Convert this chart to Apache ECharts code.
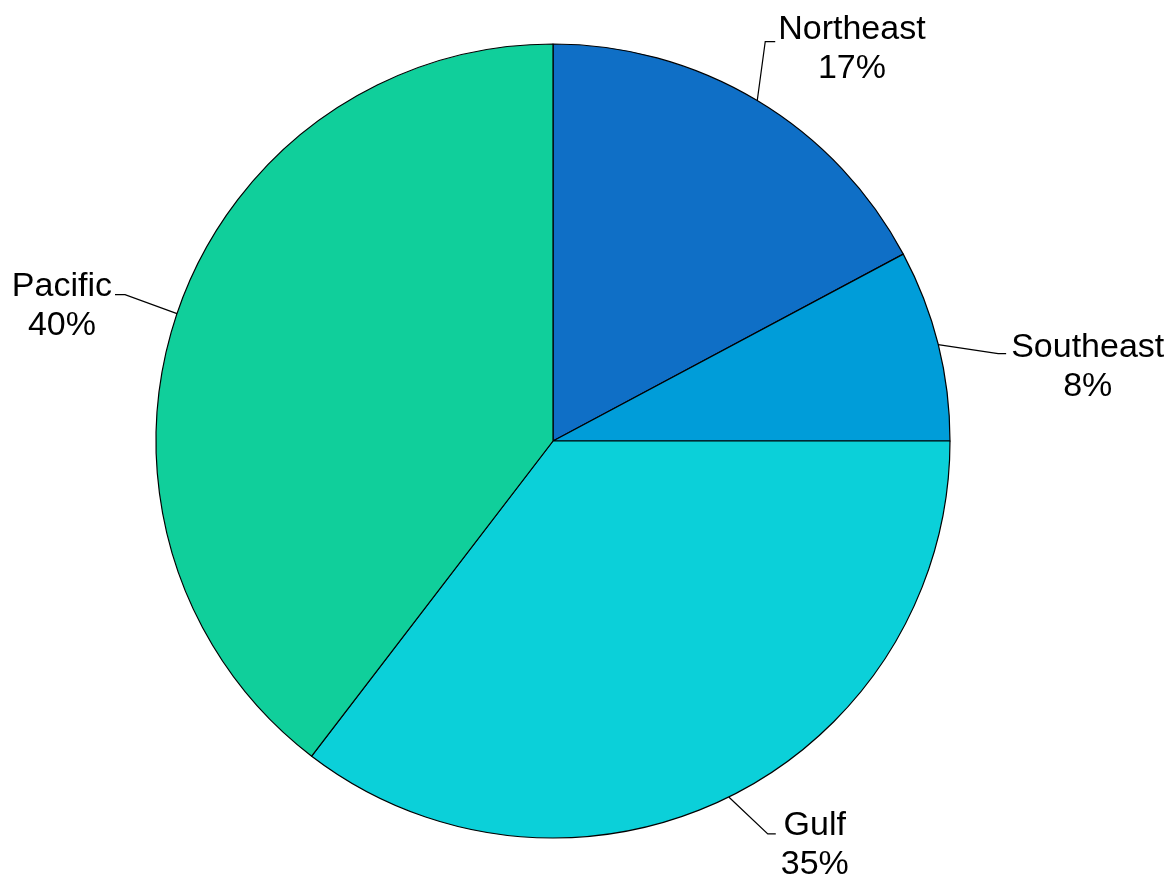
<!DOCTYPE html>
<html>
<head>
<meta charset="utf-8">
<script src="https://cdn.jsdelivr.net/npm/echarts@6/dist/echarts.min.js"></script>
<style>html,body{margin:0;padding:0;background:#fff}#c{width:1173px;height:878px}</style>
</head>
<body>
<div id="c"></div>
<script>
const categories = ['Northeast', 'Southeast', 'Gulf', 'Pacific'];
const values = [17.2, 7.8, 35.4, 39.6];
const colors = ['#0F6FC6', '#009DD9', '#0BD0D9', '#10CF9B'];

// label line offsets (style): [elbow dx, elbow dy, horizontal run, text gap, text dy]
const labelOffsets = [
  [8, -59, 10, 3, 8],
  [60, 9, 8, 5, 13],
  [39, 37, 8, 5, 11],
  [-52, -19, -10, 3, 12]
];

const chart = echarts.init(document.getElementById('c'));
chart.setOption({
  animation: false,
  backgroundColor: '#ffffff',
  series: [{
    type: 'pie',
    center: [553, 441],
    radius: 397,
    startAngle: 90,
    clockwise: true,
    percentPrecision: 0,
    data: categories.map((c, i) => ({ name: c, value: values[i], itemStyle: { color: colors[i] } })),
    itemStyle: { borderColor: '#000', borderWidth: 1.2 },
    emphasis: { disabled: true },
    label: {
      show: true,
      position: 'outside',
      formatter: '{b}\n{d}%',
      fontFamily: 'Liberation Sans, Arial, sans-serif',
      fontSize: 34,
      lineHeight: 39,
      color: '#000',
      align: 'center'
    },
    labelLine: { show: true, lineStyle: { color: '#000', width: 1.2 }, length: 20, length2: 10 },
    labelLayout: function (p) {
      const o = labelOffsets[p.dataIndex];
      const e = p.labelLinePoints ? p.labelLinePoints[0] : [0, 0];
      const elbow = [e[0] + o[0], e[1] + o[1]];
      const end = [elbow[0] + o[2], elbow[1]];
      const w = p.labelRect.width;
      const dir = o[2] >= 0 ? 1 : -1;
      return {
        x: end[0] + dir * (o[3] + w / 2),
        y: end[1] + o[4],
        align: 'center',
        verticalAlign: 'middle',
        labelLinePoints: [e, elbow, end]
      };
    }
  }]
});
</script>
</body>
</html>
